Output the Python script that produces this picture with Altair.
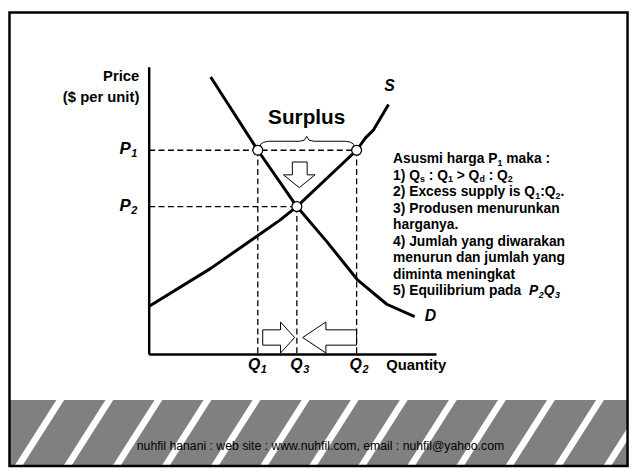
import altair as alt
import pandas as pd

# ---------------- data (chart units: 0-100 on both axes)
supply_q = [0, 21.3, 38.1, 45.4, 51.4, 72.2, 75.3, 78.1, 83.3]
supply_p = [16.8, 29.9, 41.6, 46.7, 51.5, 71.1, 75.4, 78.2, 87.0]
demand_q = [21.4, 37.8, 51.4, 61.9, 72.4, 82.7, 92.4]
demand_p = [96.6, 71.1, 51.5, 39.2, 26.1, 17.5, 13.2]
Q1, Q3, Q2 = 37.8, 51.4, 72.2
P1, P2 = 71.1, 51.5

info_lines = [
    [("Asusmi harga P", "b"), ("1", "s"), (" maka :", "b")],
    [("1) Q", "b"), ("s", "s"), (" : Q", "b"), ("1", "s"), (" > Q", "b"), ("d", "s"), (" : Q", "b"), ("2", "s")],
    [("2) Excess supply is Q", "b"), ("1", "s"), (":Q", "b"), ("2", "s"), (".", "b")],
    [("3) Produsen menurunkan", "b")],
    [("harganya.", "b")],
    [("4) Jumlah yang diwarakan", "b")],
    [("menurun dan jumlah yang", "b")],
    [("diminta meningkat", "b")],
    [("5) Equilibrium pada  ", "b"), ("P", "i"), ("2", "si"), ("Q", "i"), ("3", "si")],
]
footer = "nuhfil hanani : web site : www.nuhfil.com, email : nuhfil@yahoo.com"

# ---------------- layout helpers
FONT = "Liberation Sans"
X0, Y0, K = 151.0, 356.0, 2.91  # page px of origin, px per unit


def ux(px):
    return (px - X0) / K


def uy(py):
    return (Y0 - py) / K


AB = {" ": 278, "A": 722, "E": 667, "J": 556, "P": 667, "Q": 778, "a": 556, "b": 611,
      "c": 556, "d": 611, "e": 556, "g": 611, "h": 611, "i": 278, "k": 556, "l": 278,
      "m": 889, "n": 611, "o": 611, "p": 611, "q": 611, "r": 389, "s": 556, "t": 333,
      "u": 611, "w": 778, "x": 556, "y": 556, ")": 333, ":": 333, ">": 584, ".": 278}


def tw(text, fs):
    return sum(AB.get(c, 556) for c in text) * fs / 1000.0


rows = []


def add(px, py, t, s, style="normal", weight="bold", align="left"):
    rows.append(dict(x=ux(px), y=uy(py), t=t, s=s, style=style, weight=weight, align=align))


def add_segments(px, py, segs, fs, sfs, dy):
    for text, kind in segs:
        sub = "s" in kind
        ital = "i" in kind
        size = sfs if sub else fs
        lead = len(text) - len(text.lstrip(" "))
        px += lead * 278 * size / 1000.0
        core = text.strip(" ")
        if core:
            add(px, py + (dy if sub else 0), core, size, "italic" if ital else "normal")
        px += tw(text.lstrip(" "), size)
        if ital and not sub:
            px += 0.5


# axis texts
add(141, 74, "Price", 15, align="right")
add(141, 95, "($ per unit)", 15, align="right")
add(310.5, 117, "Surplus", 21, align="center")
add(391, 367, "Quantity", 15)
add(389, 84, "S", 16, "italic")
add(430, 317, "D", 16, "italic")
for lab, sub, px, py in [("P", "1", 121, 148), ("P", "2", 121, 206)]:
    add_segments(px, py, [(lab, "i"), (sub, "si")], 17, 11, 5)
for lab, sub, px in [("Q", "1", 251), ("Q", "3", 294), ("Q", "2", 354)]:
    add_segments(px, 367, [(lab, "i"), (sub, "si")], 16, 11, 5)
for i, segs in enumerate(info_lines):
    add_segments(398, 158 + 16.75 * i, segs, 14, 9, 4)
add(324.5, 449, footer, 12.4, weight="normal", align="center")
text_df = pd.DataFrame(rows)

XS = alt.Scale(domain=[0, 100], nice=False, zero=False)
YS = alt.Scale(domain=[0, 100], nice=False, zero=False)


def X(f):
    return alt.X(f, type="quantitative", scale=XS, axis=None)


def Y(f):
    return alt.Y(f, type="quantitative", scale=YS, axis=None)


# ---------------- decoration
band = alt.Chart(pd.DataFrame([dict(x=ux(9), x2=ux(635), y=uy(402), y2=uy(468))])).mark_rect(
    color="#808080").encode(x=X("x"), x2="x2", y=Y("y"), y2="y2")

stripes_rows = []
for k in range(13):
    top = 61 + 49.7 * k
    slope = 42.0 / 66.0
    stripes_rows.append(dict(x=ux(top + slope * 6), y=uy(396), x2=ux(top - slope * 72), y2=uy(474)))
stripes = alt.Chart(pd.DataFrame(stripes_rows)).mark_rule(
    color="white", strokeWidth=6.7).encode(x=X("x"), x2="x2", y=Y("y"), y2="y2")

border = alt.Chart(pd.DataFrame([dict(x=ux(9.5), x2=ux(635.5), y=uy(9.5), y2=uy(469))])).mark_rect(
    fillOpacity=0, stroke="black", strokeWidth=2.5).encode(x=X("x"), x2="x2", y=Y("y"), y2="y2")

# ---------------- economic chart
dash_df = pd.DataFrame([
    dict(x=0, x2=Q2, y=P1, y2=P1),
    dict(x=0, x2=Q3, y=P2, y2=P2),
    dict(x=Q1, x2=Q1, y=P1, y2=0),
    dict(x=Q2, x2=Q2, y=P1, y2=0),
    dict(x=Q3, x2=Q3, y=P2, y2=0),
])
dashes = alt.Chart(dash_df).mark_rule(color="black", strokeWidth=1.3, strokeDash=[6, 3.5]).encode(
    x=X("x"), x2="x2", y=Y("y"), y2="y2")

axes = alt.Chart(pd.DataFrame([dict(x=0, x2=0, y=0, y2=100), dict(x=0, x2=100, y=0, y2=0)])).mark_rule(
    color="black", strokeWidth=2.5).encode(x=X("x"), x2="x2", y=Y("y"), y2="y2")

curves_df = pd.concat([
    pd.DataFrame(dict(q=supply_q, p=supply_p, c="S", o=range(len(supply_q)))),
    pd.DataFrame(dict(q=demand_q, p=demand_p, c="D", o=range(len(demand_q)))),
])
curves = alt.Chart(curves_df).mark_line(color="black", strokeWidth=3, strokeJoin="round").encode(
    x=X("q"), y=Y("p"), detail="c:N", order="o:Q")

brace_px = [(263, 147), (264, 143), (267, 141), (272, 140), (303, 140), (308, 139), (310.5, 135),
            (313, 139), (318, 140), (350, 140), (355, 141), (358, 143), (359, 147)]
brace = alt.Chart(pd.DataFrame([dict(x=ux(a), y=uy(b), o=i) for i, (a, b) in enumerate(brace_px)])).mark_line(
    color="black", strokeWidth=1).encode(x=X("x"), y=Y("y"), order="o:Q")

arrows_px = {
    "down": [(296, 161), (311, 161), (311, 174), (319, 174), (303, 187), (287, 174), (296, 174), (296, 161)],
    "right": [(266, 331), (284, 331), (284, 323), (298.3, 338.8), (284, 354.5), (284, 346.5), (266, 346.5), (266, 331)],
    "left": [(361, 331), (330, 331), (330, 323), (306.5, 338.8), (330, 354.5), (330, 346.5), (361, 346.5), (361, 331)],
}
arr_rows = []
for name, pts in arrows_px.items():
    for i, (a, b) in enumerate(pts):
        arr_rows.append(dict(x=ux(a), y=uy(b), id=name, o=i))
arrows = alt.Chart(pd.DataFrame(arr_rows)).mark_line(color="black", strokeWidth=1, strokeJoin="miter").encode(
    x=X("x"), y=Y("y"), detail="id:N", order="o:Q")

circles = alt.Chart(pd.DataFrame(dict(q=[Q1, Q2, Q3], p=[P1, P1, P2]))).mark_point(
    shape="circle", filled=True, fill="white", stroke="black", strokeWidth=1.3, size=100, opacity=1).encode(
    x=X("q"), y=Y("p"))

text_layers = []
for (style, weight, align), g in text_df.groupby(["style", "weight", "align"]):
    text_layers.append(
        alt.Chart(g).mark_text(font=FONT, fontStyle=style, fontWeight=weight, align=align,
                               baseline="middle", color="black").encode(
            x=X("x"), y=Y("y"), text="t:N", size=alt.Size("s:Q", scale=None)))

chart = alt.layer(band, stripes, border, dashes, curves, axes, brace, arrows, circles, *text_layers).properties(
    width=291, height=291,
    padding={"left": 143, "top": 57, "right": 197, "bottom": 115},
    autosize=alt.AutoSizeParams(type="none"),
    background="white",
).configure_view(stroke=None)

chart.save("out.html", embed_options={"renderer": "svg", "actions": False})
